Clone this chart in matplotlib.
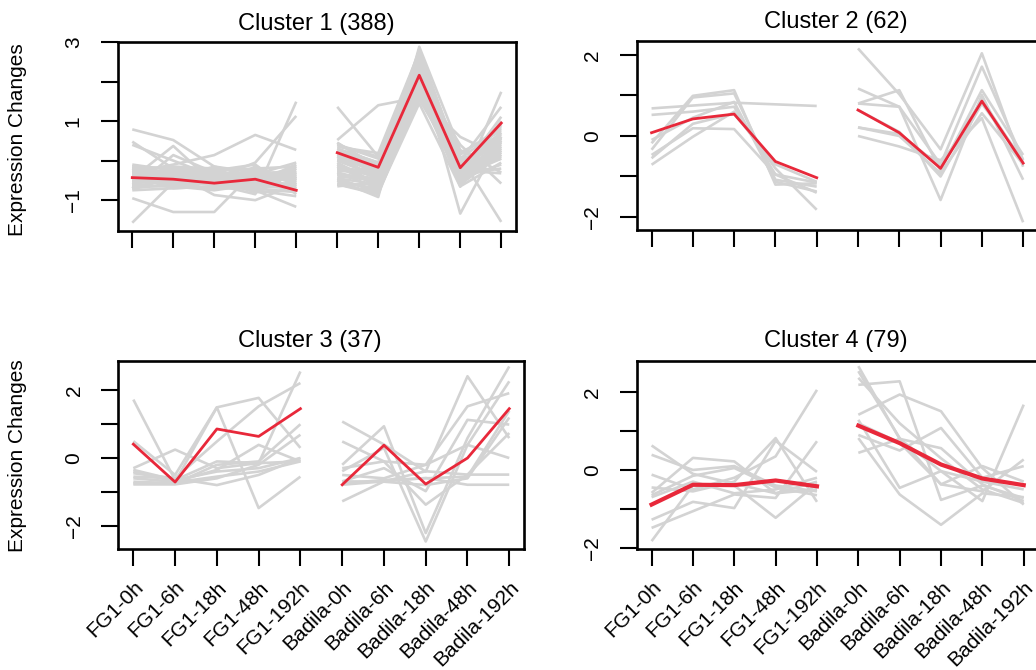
import matplotlib
matplotlib.use('Agg')
import matplotlib.pyplot as plt
from matplotlib.transforms import ScaledTranslation

plt.rcParams['font.family'] = ['Liberation Sans', 'DejaVu Sans']

time_points = ['FG1-0h', 'FG1-6h', 'FG1-18h', 'FG1-48h', 'FG1-192h',
               'Badila-0h', 'Badila-6h', 'Badila-18h', 'Badila-48h', 'Badila-192h']

cluster_titles = ['Cluster 1 (388)', 'Cluster 2 (62)', 'Cluster 3 (37)', 'Cluster 4 (79)']

# gene profiles: 5 FG1 values then 5 Badila values
cluster1_genes = [
    [0.79, 0.52, -0.15, -0.30, -0.35, 0.45, -0.20, 2.30, -0.25, 0.55],
    [0.48, -0.20, -0.35, -0.45, -0.50, 0.10, -0.45, 1.95, -0.40, 0.35],
    [0.40, 0.00, -0.40, -0.55, -0.30, -0.10, -0.60, 1.70, -0.10, 0.70],
    [-1.57, -0.55, -0.45, -0.50, -0.40, -0.30, -0.70, 1.60, 0.05, 0.80],
    [-0.95, -1.30, -1.30, -0.25, -0.45, 0.30, -0.05, 2.55, -0.35, 1.00],
    [-0.45, 0.37, -0.58, -0.50, -0.40, 1.36, 0.10, 2.65, -0.20, 0.20],
    [-0.70, 0.14, -0.30, -0.60, -0.70, 0.52, 1.40, 1.60, 0.60, 0.10],
    [-0.30, -0.10, 0.14, 0.65, 0.27, -0.50, -0.92, 2.88, 0.27, -0.30],
    [-0.45, -0.50, -0.60, -0.85, 1.49, -0.20, -0.30, 2.40, -1.34, 0.60],
    [-0.40, -0.35, -0.45, -0.05, 1.13, 0.00, -0.15, 2.10, 0.10, -1.55],
    [-0.50, -0.60, -0.55, -0.75, -1.17, -0.60, -0.80, 1.45, -0.66, 1.74],
    [-0.20, -0.30, -0.87, -1.00, -0.60, 0.35, 0.19, 2.75, 0.00, 1.36],
    [-0.15, -0.20, -0.25, -0.20, -0.15, -0.40, -0.50, 1.80, -0.50, 0.30],
    [-0.25, -0.30, -0.35, -0.40, -0.30, -0.20, -0.30, 2.00, -0.30, 0.45],
    [-0.35, -0.40, -0.45, -0.30, -0.50, 0.05, -0.10, 2.20, -0.20, 0.25],
    [-0.45, -0.45, -0.50, -0.60, -0.65, -0.55, -0.70, 1.75, -0.45, -0.10],
    [-0.55, -0.55, -0.60, -0.45, -0.25, 0.20, -0.25, 2.45, -0.55, 0.50],
    [-0.65, -0.65, -0.70, -0.70, -0.80, -0.35, -0.45, 1.90, -0.15, 0.60],
    [-0.75, -0.70, -0.65, -0.55, -0.10, -0.05, -0.60, 2.15, -0.60, 0.15],
    [-0.10, -0.25, -0.55, -0.65, -0.55, 0.15, -0.35, 2.35, 0.15, 0.85],
    [-0.30, -0.50, -0.30, -0.35, -0.70, -0.45, -0.80, 1.65, -0.35, 0.40],
    [-0.60, -0.35, -0.40, -0.50, -0.35, -0.25, -0.20, 2.55, -0.25, 0.05],
    [-0.20, -0.60, -0.70, -0.25, -0.45, 0.40, 0.05, 2.70, -0.05, 0.70],
    [-0.50, -0.15, -0.20, -0.75, -0.90, -0.65, -0.55, 1.85, -0.50, 0.20],
    [-0.70, -0.45, -0.15, -0.40, -0.20, 0.00, -0.40, 2.25, -0.40, 0.95],
    [-0.40, -0.70, -0.65, -0.15, -0.60, -0.15, -0.65, 2.05, 0.00, 0.35],
    [-0.15, -0.40, -0.50, -0.80, -0.75, 0.25, -0.10, 2.60, -0.30, 1.11],
    [-0.60, -0.25, -0.35, -0.35, -0.05, -0.50, -0.75, 1.55, -0.20, 0.55],
    [-0.35, -0.65, -0.75, -0.60, -0.40, -0.35, -0.50, 1.95, -0.65, -0.05],
    [-0.55, -0.30, -0.25, -0.10, -0.85, 0.10, -0.25, 2.30, 0.20, 0.75],
    [-0.25, -0.55, -0.60, -0.70, -0.20, -0.10, -0.45, 2.50, -0.45, 0.10],
    [-0.65, -0.50, -0.40, -0.45, -0.65, 0.45, -0.15, 2.80, -0.10, 0.45],
    [-0.45, -0.20, -0.65, -0.30, -0.30, -0.60, -0.85, 1.70, -0.55, 0.25],
    [-0.30, -0.45, -0.20, -0.55, -0.45, -0.25, -0.35, 2.00, -0.35, -0.20],
    [-0.70, -0.60, -0.50, -0.65, -0.15, 0.30, -0.05, 2.40, -0.15, 0.65],
    [-0.50, -0.35, -0.55, -0.20, -0.55, -0.45, -0.60, 2.15, 0.05, 0.30],
    [-0.20, -0.45, -0.45, -0.50, -0.35, 0.00, -0.20, 2.60, -0.25, -0.32],
    [-0.40, -0.55, -0.30, -0.65, -0.70, -0.30, -0.55, 1.80, -0.40, 0.05],
    [-0.60, -0.40, -0.60, -0.40, -0.50, 0.20, -0.30, 2.20, -0.30, 0.90],
    [-0.35, -0.25, -0.40, -0.25, -0.60, -0.15, -0.40, 2.45, -0.60, 0.50],
    [-0.50, -0.45, -0.50, -0.40, -0.45, 0.40, 0.10, 2.05, 0.40, -0.58],
]
cluster1_centre = [-0.43, -0.47, -0.57, -0.47, -0.75, 0.20, -0.17, 2.16, -0.18, 0.95]

cluster2_genes = [
    [0.68, 0.75, 0.82, 0.78, 0.74, 2.16, 1.03, -0.33, 2.04, -0.76],
    [0.52, 0.60, 0.72, -0.95, -1.15, 1.17, 0.72, -0.70, 1.71, -0.59],
    [-0.18, 0.99, 1.13, -1.20, -1.17, 0.80, 1.13, -0.85, 1.13, -0.47],
    [-0.34, 0.95, 1.05, -1.08, -1.25, 0.80, 0.72, -1.58, 1.01, -1.08],
    [-0.47, 0.19, 0.17, -0.95, -1.40, 0.21, 0.00, -0.92, 0.56, -0.70],
    [-0.71, -0.02, 0.60, -0.80, -1.82, 0.21, 0.05, -0.75, 0.90, -0.65],
    [-0.10, 0.45, 0.84, -1.13, -1.37, 0.00, -0.26, -0.60, 0.44, -2.13],
    [-0.55, 0.30, 0.55, -0.70, -1.13, 0.64, 0.10, -1.00, 0.80, -0.60],
]
cluster2_centre = [0.08, 0.42, 0.54, -0.63, -1.03, 0.64, 0.08, -0.80, 0.86, -0.67]

cluster3_genes = [
    [1.73, -0.65, -0.40, -0.30, 0.00, 1.08, 0.40, -0.40, 2.42, 0.59],
    [0.50, -0.50, 1.50, 1.78, 0.30, 0.49, -0.10, -0.20, 1.53, 1.92],
    [-0.40, -0.70, 1.50, -1.48, -0.55, -0.20, 0.94, -2.22, 0.59, 2.71],
    [-0.30, 0.25, -0.30, -0.15, 2.56, -0.39, 0.30, -2.47, 0.39, 2.27],
    [-0.55, -0.60, 0.49, 1.53, 2.22, -0.69, -0.30, -0.98, 1.13, 0.99],
    [-0.70, -0.75, -0.20, -0.10, 1.00, -1.28, -0.69, -0.59, -0.79, -0.79],
    [-0.45, -0.60, -0.80, -0.50, 0.00, -0.79, -0.69, -0.39, -0.49, 0.74],
    [-0.60, -0.70, -0.35, 0.39, -0.10, -0.30, -0.10, -1.38, -0.49, -0.49],
    [-0.75, -0.72, -0.55, -0.40, -0.10, -0.50, -0.60, -0.20, 0.39, 0.00],
    [-0.35, -0.65, -0.10, -0.15, -0.10, -0.69, -0.70, -0.80, -0.60, 1.20],
    [-0.78, -0.78, -0.60, -0.20, 0.69, -0.75, -0.65, -0.60, -0.55, 1.40],
]
cluster3_centre = [0.41, -0.71, 0.86, 0.64, 1.46, -0.79, 0.38, -0.77, 0.00, 1.46]

cluster4_genes = [
    [0.63, -0.10, -0.35, -0.60, -0.50, 2.67, 0.80, 0.56, -0.37, -0.80],
    [0.39, 0.00, 0.10, -0.40, -0.55, 2.54, 0.82, -0.37, -0.55, 0.27],
    [-0.12, -0.50, -0.20, 0.35, 2.06, 2.19, 2.28, -0.77, -0.40, -0.72],
    [-0.59, 0.31, 0.22, -0.60, -0.30, 1.42, 1.94, 1.51, 0.05, -0.89],
    [-0.65, -0.15, 0.05, -0.45, -0.65, 1.29, -0.46, -0.03, -0.30, -0.50],
    [-1.28, -0.82, -0.98, 0.75, -0.05, 0.82, -0.63, -1.41, -0.60, -0.70],
    [-1.49, -1.06, -0.63, -0.72, 0.74, 0.44, 0.80, -0.03, -0.80, 1.68],
    [-1.83, -0.40, -0.40, -1.23, -0.35, 2.37, 1.20, 0.30, -0.50, -0.85],
    [-0.45, -0.55, -0.30, 0.82, -0.82, 1.20, 0.70, -0.37, 0.10, -0.30],
    [-0.70, -0.30, -0.60, -0.50, -0.20, 0.90, 0.50, 1.08, -0.20, 0.10],
]
cluster4_centre = [-0.89, -0.38, -0.39, -0.27, -0.42, 1.14, 0.69, 0.14, -0.22, -0.39]

W, H = 1036, 670
GREY = '#d3d3d3'
RED = '#e8283a'
MINUS = '\u2212'


def add_box(fig, left, top, right, bottom):
    return fig.add_axes([left / W, 1 - bottom / H, (right - left) / W, (bottom - top) / H])


def draw_cluster(ax, genes, centre, ylim, yticks, ylabels, red_lw, show_xlabels):
    x = list(range(1, 11))
    for g in genes:
        ax.plot(x[:5], g[:5], color=GREY, lw=1.9, solid_capstyle='butt')
        ax.plot(x[5:], g[5:], color=GREY, lw=1.9, solid_capstyle='butt')
    ax.plot(x[:5], centre[:5], color=RED, lw=red_lw)
    ax.plot(x[5:], centre[5:], color=RED, lw=red_lw)

    ax.set_xlim(0.64, 10.36)
    ax.set_ylim(*ylim)
    for s in ax.spines.values():
        s.set_linewidth(1.9)
    ax.tick_params(length=12, width=1.5, direction='out', labelsize=15)
    ax.tick_params(axis='y', pad=13)

    ax.set_yticks(yticks)
    ax.set_yticklabels([l.replace('-', MINUS) for l in ylabels], rotation=90, va='center')

    ax.set_xticks(x)
    if show_xlabels:
        ax.set_xticklabels(time_points, rotation=45, ha='right', va='top',
                           rotation_mode='anchor')
        shift = ScaledTranslation(3 / 100, 0, ax.figure.dpi_scale_trans)
        for lab in ax.get_xticklabels():
            lab.set_transform(lab.get_transform() + shift)
        ax.tick_params(axis='x', pad=8.5)
    else:
        ax.set_xticklabels([])


fig = plt.figure(figsize=(W / 100, H / 100), dpi=100)

ax1 = add_box(fig, 117.5, 42, 516, 231)
draw_cluster(ax1, cluster1_genes, cluster1_centre, (-1.78, 3.0),
             [-1, 0, 1, 2, 3], ['-1', '', '1', '', '3'], 2.0, False)

ax2 = add_box(fig, 636.7, 40.7, 1038, 230)
draw_cluster(ax2, cluster2_genes, cluster2_centre, (-2.32, 2.35),
             [-2, -1, 0, 1, 2], ['-2', '', '0', '', '2'], 2.0, False)

ax3 = add_box(fig, 118.3, 360.7, 524.3, 549.3)
draw_cluster(ax3, cluster3_genes, cluster3_centre, (-2.70, 2.88),
             [-2, -1, 0, 1, 2], ['-2', '', '0', '', '2'], 2.0, True)

ax4 = add_box(fig, 636.7, 360.7, 1038.6, 549.3)
draw_cluster(ax4, cluster4_genes, cluster4_centre, (-2.04, 2.81),
             [-2, -1, 0, 1, 2], ['-2', '', '0', '', '2'], 3.0, True)

# panel titles and shared y labels, placed in pixel coordinates
title_pos = [(316, 30), (835.5, 28.3), (309.5, 346.7), (835.8, 346.7)]
for (tx, ty), t in zip(title_pos, cluster_titles):
    fig.text(tx / W, 1 - ty / H, t, ha='center', va='baseline', fontsize=17)

for ly in (139.7, 455.8):
    fig.text(18 / W, 1 - ly / H, 'Expression Changes', rotation=90,
             ha='center', va='center', fontsize=15)

fig.savefig('out.png', dpi=100)
